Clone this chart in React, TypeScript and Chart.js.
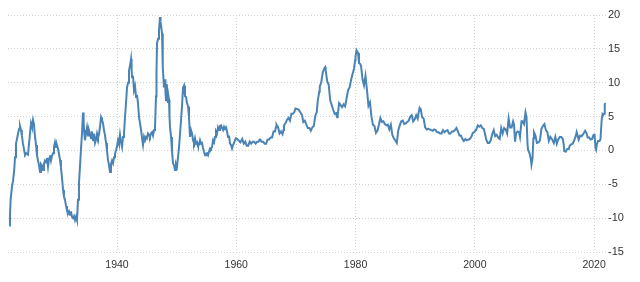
import { useEffect, useRef } from "react";
import { Chart, registerables } from "chart.js";

Chart.register(...registerables);

// Decimal years of each observation
const dates: number[] = [
  1921.92, 1922.05, 1922.17, 1922.39, 1922.56, 1922.75, 1922.9,
  1923.06, 1923.25, 1923.4, 1923.6, 1923.73, 1923.9,
  1924.05, 1924.23, 1924.4, 1924.57, 1924.75, 1924.91,
  1925.07, 1925.25, 1925.41, 1925.58, 1925.74, 1925.91,
  1926.08, 1926.25, 1926.42, 1926.58, 1926.75, 1926.92,
  1927.09, 1927.25, 1927.42, 1927.59, 1927.75, 1927.92,
  1928.1, 1928.26, 1928.43, 1928.6, 1928.76, 1928.93,
  1929.1, 1929.27, 1929.43, 1929.6, 1929.77, 1929.93,
  1930.1, 1930.27, 1930.44, 1930.6, 1930.78, 1930.95,
  1931.1, 1931.28, 1931.45, 1931.61, 1931.8, 1931.95,
  1932.12, 1932.28, 1932.45, 1932.62, 1932.8, 1932.96,
  1933.13, 1933.29, 1933.46, 1933.62, 1933.79, 1933.96,
  1934.13, 1934.3, 1934.4, 1934.47, 1934.63, 1934.8, 1934.97,
  1935.14, 1935.3, 1935.47, 1935.64, 1935.8, 1935.98,
  1936.14, 1936.31, 1936.48, 1936.65, 1936.81, 1936.98,
  1937.15, 1937.32, 1937.48, 1937.65, 1937.82, 1937.99,
  1938.16, 1938.32, 1938.49, 1938.66, 1938.83, 1938.99,
  1939.16, 1939.33, 1939.5, 1939.66, 1939.83,
  1940.0, 1940.17, 1940.33, 1940.5, 1940.67, 1940.84,
  1941.01, 1941.17, 1941.34, 1941.51, 1941.68, 1941.85,
  1942.01, 1942.18, 1942.35, 1942.45, 1942.52, 1942.68, 1942.85,
  1943.02, 1943.19, 1943.35, 1943.52, 1943.69, 1943.86,
  1944.03, 1944.2, 1944.36, 1944.53, 1944.7, 1944.87,
  1945.03, 1945.2, 1945.37, 1945.53, 1945.7, 1945.87,
  1946.04, 1946.21, 1946.37, 1946.54, 1946.62, 1946.71, 1946.88,
  1947.04, 1947.21, 1947.3, 1947.38, 1947.55, 1947.63, 1947.71, 1947.8, 1947.88,
  1948.05, 1948.13, 1948.22, 1948.3, 1948.38, 1948.47, 1948.55, 1948.63, 1948.72, 1948.8, 1948.89,
  1949.06, 1949.22, 1949.39, 1949.56, 1949.73, 1949.89,
  1950.06, 1950.23, 1950.4, 1950.57, 1950.74, 1950.9,
  1951.07, 1951.24, 1951.4, 1951.57, 1951.74, 1951.91,
  1952.07, 1952.24, 1952.41, 1952.58, 1952.75, 1952.91,
  1953.08, 1953.25, 1953.42, 1953.58, 1953.75, 1953.92,
  1954.09, 1954.26, 1954.42, 1954.59, 1954.76, 1954.92,
  1955.09, 1955.26, 1955.43, 1955.6, 1955.76, 1955.93,
  1956.1, 1956.27, 1956.44, 1956.6, 1956.77, 1956.94,
  1957.11, 1957.27, 1957.44, 1957.61, 1957.78, 1957.95,
  1958.11, 1958.28, 1958.45, 1958.62, 1958.78, 1958.95,
  1959.12, 1959.29, 1959.46, 1959.62, 1959.79, 1959.96,
  1960.17, 1960.33, 1960.5, 1960.67, 1960.83,
  1961.0, 1961.25, 1961.5, 1961.75,
  1962.0, 1962.25, 1962.5, 1962.75,
  1963.0, 1963.25, 1963.5, 1963.75, 1963.92,
  1964.0, 1964.25, 1964.5, 1964.75,
  1965.0, 1965.25, 1965.5, 1965.75,
  1966.0, 1966.25, 1966.5, 1966.67, 1966.75, 1966.92,
  1967.0, 1967.25, 1967.5, 1967.75, 1967.92,
  1968.0, 1968.25, 1968.5, 1968.75,
  1969.0, 1969.25, 1969.5, 1969.75, 1969.92,
  1970.0, 1970.25, 1970.5, 1970.75,
  1971.0, 1971.25, 1971.5, 1971.75,
  1972.0, 1972.25, 1972.5, 1972.75,
  1973.0, 1973.25, 1973.5, 1973.67, 1973.75, 1973.92,
  1974.0, 1974.25, 1974.5, 1974.75, 1974.92,
  1975.0, 1975.25, 1975.5, 1975.75,
  1976.0, 1976.25, 1976.5, 1976.75, 1976.92,
  1977.0, 1977.25, 1977.5, 1977.75,
  1978.0, 1978.25, 1978.5, 1978.75,
  1979.0, 1979.25, 1979.5, 1979.75, 1979.92,
  1980.0, 1980.17, 1980.42, 1980.58, 1980.75, 1980.92,
  1981.17, 1981.42, 1981.67, 1981.92,
  1982.17, 1982.42, 1982.67, 1982.92,
  1983.17, 1983.42, 1983.67, 1983.92,
  1984.17, 1984.42, 1984.67, 1984.92,
  1985.17, 1985.42, 1985.67, 1985.92,
  1986.17, 1986.42, 1986.58, 1986.92,
  1987.17, 1987.42, 1987.67, 1987.92,
  1988.17, 1988.42, 1988.67, 1988.92,
  1989.17, 1989.42, 1989.67, 1989.92,
  1990.17, 1990.42, 1990.58, 1990.75, 1990.92,
  1991.17, 1991.42, 1991.67, 1991.92,
  1992.17, 1992.42, 1992.67, 1992.92,
  1993.17, 1993.42, 1993.67, 1993.92,
  1994.17, 1994.42, 1994.67, 1994.92,
  1995.17, 1995.42, 1995.67, 1995.92,
  1996.17, 1996.42, 1996.67, 1996.92,
  1997.17, 1997.42, 1997.67, 1997.92,
  1998.17, 1998.42, 1998.67, 1998.92,
  1999.17, 1999.42, 1999.67, 1999.92,
  2000.25, 2000.5, 2000.75,
  2001.0, 2001.25, 2001.5, 2001.67, 2001.92,
  2002.17, 2002.42, 2002.67, 2002.92,
  2003.17, 2003.42, 2003.67, 2003.92,
  2004.17, 2004.42, 2004.67, 2004.92,
  2005.17, 2005.42, 2005.67, 2005.92,
  2006.17, 2006.42, 2006.58, 2006.75, 2006.92,
  2007.17, 2007.42, 2007.58, 2007.83,
  2008.0, 2008.25, 2008.5, 2008.67, 2008.83, 2008.92,
  2009.17, 2009.42, 2009.5, 2009.67, 2009.83, 2009.92,
  2010.17, 2010.42, 2010.75, 2010.92,
  2011.17, 2011.42, 2011.67, 2011.92,
  2012.17, 2012.42, 2012.67, 2012.92,
  2013.25, 2013.5, 2013.75, 2013.92,
  2014.25, 2014.5, 2014.75, 2014.92,
  2015.0, 2015.25, 2015.5, 2015.75, 2015.92,
  2016.17, 2016.42, 2016.67, 2016.92,
  2017.08, 2017.42, 2017.67, 2017.92,
  2018.17, 2018.5, 2018.75, 2018.92,
  2019.17, 2019.42, 2019.67, 2019.92,
  2020.08, 2020.25, 2020.33, 2020.5, 2020.67, 2020.92,
  2021.08, 2021.25, 2021.33, 2021.42, 2021.58, 2021.67, 2021.75, 2021.83, 2021.92,
];

// Inflation rate, % (same order as dates)
const rates: number[] = [
  -11.1, -9.5, -7.2, -5.3, -4.5, -3.0, -1.0,
  1.0, 1.8, 2.5, 3.2, 3.6, 3.0,
  2.2, 1.0, 0.2, -0.7, -0.4, -0.5,
  -0.6, 1.0, 2.5, 4.0, 3.5, 4.5,
  3.8, 2.0, 0.8, -0.7, -1.5, -2.2,
  -3.2, -2.0, -2.2, -2.9, -2.0, -1.5,
  -1.8, -1.1, -2.4, -1.2, -0.7, -1.5,
  -0.8, -0.4, 0.5, 1.2, 0.5, 0.8,
  0.3, -0.5, -1.4, -2.5, -4.1, -5.8,
  -6.8, -7.3, -8.2, -8.8, -9.3, -9.0,
  -9.5, -9.0, -9.8, -10.0, -9.7, -10.3,
  -9.8, -10.3, -7.3, -4.8, -2.4, 0.2,
  2.5, 5.6, 4.5, 3.0, 1.5, 2.5, 3.4,
  2.2, 3.0, 2.5, 1.8, 2.8, 1.5,
  2.5, 1.1, 1.6, 2.5, 1.9, 2.4,
  3.5, 4.9, 4.5, 4.0, 3.0, 2.2,
  1.1, 0.0, -1.4, -2.2, -3.2, -2.0,
  -1.5, -1.9, -1.0, -0.5, 0.0,
  0.6, 1.5, 1.0, 2.3, 1.2, 0.5,
  2.0, 2.5, 4.9, 7.0, 9.3, 10.0,
  11.8, 12.5, 13.5, 12.0, 10.8, 11.0, 8.9,
  9.5, 7.9, 8.2, 7.0, 4.9, 4.0,
  3.0, 1.8, 0.8, 2.0, 1.5, 2.0,
  1.8, 2.5, 2.3, 2.0, 2.5, 2.7,
  2.2, 3.0, 3.4, 8.0, 11.5, 15.8, 16.5,
  17.7, 19.7, 19.0, 18.5, 17.3, 14.0, 12.3, 10.5, 9.3,
  10.5, 8.5, 7.4, 9.0, 9.8, 8.5, 7.0, 8.0, 7.5, 5.0, 3.4,
  2.0, 0.0, -1.9, -2.2, -2.9, -2.0,
  -2.4, -1.0, 0.5, 2.5, 4.5, 6.5,
  9.3, 9.6, 8.0, 7.9, 7.0, 6.5,
  4.9, 2.0, 3.0, 2.5, 1.5, 1.1,
  1.8, 1.0, 1.2, 0.7, 0.8, 1.5,
  1.0, 1.1, 0.4, -0.2, -0.7, -0.5,
  -0.4, -0.7, -0.2, 0.3, 0.2, 0.5,
  1.5, 1.2, 2.0, 2.8, 2.5, 3.4,
  3.0, 3.6, 3.7, 3.3, 3.0, 3.5,
  3.2, 3.4, 2.8, 2.0, 2.2, 1.0,
  0.8, 0.3, 0.8, 1.1, 1.5, 1.8,
  1.7, 1.5, 1.4, 1.2, 1.4,
  1.7, 1.0, 1.3, 0.7,
  0.7, 1.3, 1.0, 1.3,
  1.3, 1.0, 1.3, 1.3, 1.6,
  1.6, 1.3, 1.3, 1.0,
  1.0, 1.6, 1.6, 1.9,
  1.9, 2.8, 2.8, 3.5, 3.8, 3.5,
  3.5, 2.5, 2.8, 2.4, 3.0,
  3.7, 4.0, 4.5, 4.8,
  4.4, 5.4, 5.4, 5.7, 6.2,
  6.2, 6.1, 6.0, 5.6,
  5.3, 4.2, 4.4, 3.8,
  3.3, 3.3, 2.9, 3.4,
  3.6, 5.1, 5.7, 7.4, 7.8, 8.7,
  9.4, 10.1, 11.5, 12.1, 12.3,
  11.8, 10.2, 9.7, 7.4,
  6.7, 6.0, 5.4, 5.5, 4.9,
  5.2, 7.0, 6.7, 6.4,
  6.8, 6.5, 7.7, 8.9,
  9.3, 10.4, 11.3, 12.1, 13.3,
  13.9, 14.8, 14.4, 12.9, 12.8, 12.5,
  10.5, 9.6, 11.0, 8.9,
  6.6, 7.1, 5.0, 3.8,
  3.6, 2.6, 2.9, 3.8,
  4.8, 4.2, 4.3, 3.9,
  3.7, 3.8, 3.1, 3.8,
  2.3, 1.8, 1.6, 1.1,
  3.0, 3.7, 4.3, 4.4,
  3.9, 4.0, 4.2, 4.4,
  5.0, 5.2, 4.3, 4.6,
  5.2, 4.7, 5.6, 6.3, 6.1,
  4.9, 4.7, 3.4, 3.1,
  3.2, 3.1, 3.0, 2.9,
  3.1, 3.0, 2.7, 2.7,
  2.5, 2.5, 3.0, 2.7,
  2.9, 3.0, 2.5, 2.5,
  2.8, 2.8, 3.0, 3.3,
  2.8, 2.2, 2.2, 1.7,
  1.4, 1.7, 1.5, 1.6,
  1.7, 2.0, 2.6, 2.7,
  3.1, 3.7, 3.5,
  3.7, 3.3, 3.2, 2.6, 1.6,
  1.1, 1.1, 1.5, 2.4,
  3.0, 2.1, 2.3, 1.9,
  1.7, 3.3, 2.5, 3.3,
  3.1, 2.5, 4.7, 3.4,
  3.4, 4.3, 3.8, 1.3, 2.5,
  2.8, 2.7, 2.0, 4.3,
  4.3, 3.9, 5.6, 4.9, 1.1, 0.1,
  -0.4, -1.4, -2.1, -1.3, 1.8, 2.7,
  2.2, 1.1, 1.2, 1.5,
  3.2, 3.6, 3.9, 3.0,
  2.7, 1.4, 2.0, 1.7,
  1.1, 2.0, 1.0, 1.5,
  2.0, 2.0, 1.7, 0.8,
  -0.1, -0.2, 0.2, 0.2, 0.7,
  0.9, 1.0, 1.5, 2.1,
  2.7, 1.6, 2.2, 2.1,
  2.4, 2.9, 2.5, 1.9,
  1.9, 1.6, 1.7, 2.3,
  2.3, 0.3, 0.1, 1.0, 1.4, 1.4,
  1.7, 4.2, 5.0, 5.4, 5.3, 5.4, 6.2, 6.8, 7.0,
];

const xTickYears = [1940, 1960, 1980, 2000, 2020];
const yTickValues = [-15, -10, -5, 0, 5, 10, 15, 20];

export default function App() {
  const ref = useRef<HTMLCanvasElement>(null);

  useEffect(() => {
    if (!ref.current) return;
    const points = dates.map((d, i) => ({ x: d, y: rates[i] }));
    const gridColor = "#d2d2d2";
    const chart = new Chart(ref.current, {
      type: "line",
      data: {
        datasets: [
          {
            data: points,
            borderColor: "#4a84b6",
            borderWidth: 2,
            pointRadius: 0,
            tension: 0,
            fill: false,
          },
        ],
      },
      options: {
        animation: false,
        responsive: false,
        maintainAspectRatio: false,
        layout: { padding: { left: 8, top: 15, right: 0, bottom: 0 } },
        plugins: {
          legend: { display: false },
          tooltip: { enabled: false },
        },
        scales: {
          x: {
            type: "linear",
            min: 1921.72,
            max: 2022.0,
            afterBuildTicks: (s: any) => {
              s.ticks = xTickYears.map((v) => ({ value: v }));
            },
            afterFit: (s: any) => {
              s.height = 30;
            },
            ticks: {
              padding: 7,
              color: "#333",
              font: { family: "'Liberation Sans', Arial, sans-serif", size: 10.5 },
              maxRotation: 0,
              autoSkip: false,
              callback: (v: any) => String(v),
            },
            grid: { color: gridColor, drawTicks: false, lineWidth: 1 },
            border: { display: false, dash: [1, 2] },
          },
          y: {
            position: "right",
            min: -15,
            max: 20,
            afterBuildTicks: (s: any) => {
              s.ticks = yTickValues.map((v) => ({ value: v }));
            },
            afterFit: (s: any) => {
              s.width = 34;
            },
            ticks: {
              padding: 2,
              color: "#333",
              font: { family: "'Liberation Sans', Arial, sans-serif", size: 11 },
              callback: (v: any) => String(v),
            },
            grid: { color: gridColor, drawTicks: false, lineWidth: 1 },
            border: { display: false, dash: [1, 2] },
          },
        },
      },
    });
    return () => chart.destroy();
  }, []);

  return (
    <div style={{ position: "absolute", left: 0, top: 0, width: 640, height: 282, background: "#fff" }}>
      <canvas ref={ref} width={640} height={282} style={{ display: "block" }} />
    </div>
  );
}
